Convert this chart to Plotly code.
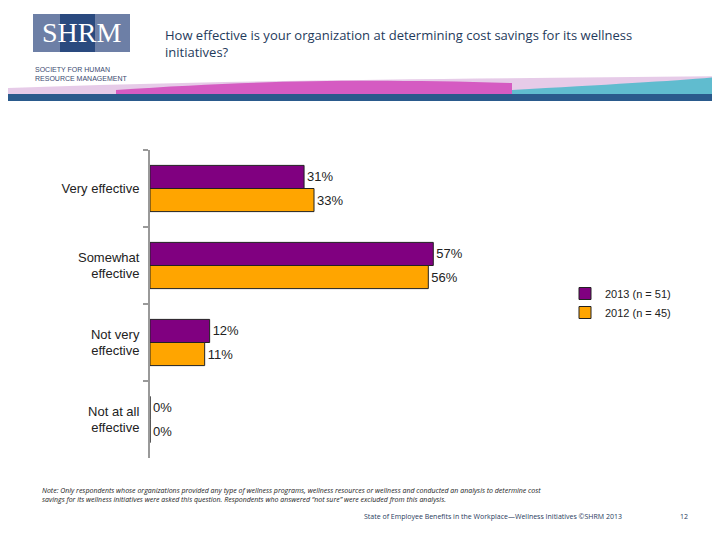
import plotly.graph_objects as go

categories = ["Very effective", "Somewhat<br>effective", "Not very<br>effective", "Not at all<br>effective"]
pct_2013 = [31, 57, 12, 0]
pct_2012 = [33, 56, 11, 0]
names = ["2013 (n = 51)", "2012 (n = 45)"]

DX = 8  # page offset compensation


def px(x):
    return (x - DX) / 720


def py(y):
    return 1 - (y - DX) / 540


fig = go.Figure()
fig.add_bar(y=categories, x=pct_2013, orientation="h", name=names[0],
            marker=dict(color="#800080", line=dict(color="#222", width=1)),
            text=[f"{v}%" for v in pct_2013], textposition="outside", cliponaxis=False)
fig.add_bar(y=categories, x=pct_2012, orientation="h", name=names[1],
            marker=dict(color="#FFA500", line=dict(color="#222", width=1)),
            text=[f"{v}%" for v in pct_2012], textposition="outside", cliponaxis=False)

font = "Liberation Sans, Arial, sans-serif"
fig.update_layout(
    width=720, height=540, margin=dict(l=0, r=0, t=0, b=0),
    paper_bgcolor="white", plot_bgcolor="white",
    barmode="group", bargap=0.4, bargroupgap=0.0,
    font=dict(family=font, size=13, color="#222"),
    xaxis=dict(domain=[px(150), px(647)], range=[0, 100], visible=False, automargin=False),
    yaxis=dict(domain=[py(458), py(150)], autorange="reversed", showline=True, automargin=False,
               linecolor="#999", linewidth=2, ticks="outside", tickson="boundaries",
               ticklen=5, tickcolor="#999", tickwidth=2,
               tickfont=dict(size=13, color="#222"), ticklabelstandoff=6),
    showlegend=True,
    legend=dict(x=px(565), y=py(303), xanchor="left", yanchor="middle",
                font=dict(size=11), tracegroupgap=4, bgcolor="rgba(0,0,0,0)"),
    shapes=[
        dict(type="rect", xref="paper", yref="paper", x0=px(33), x1=px(130),
             y0=py(52), y1=py(14), fillcolor="#6d7fa6", line_width=0, layer="below"),
        dict(type="rect", xref="paper", yref="paper", x0=px(60), x1=px(95),
             y0=py(52), y1=py(14), fillcolor="#2a4a7f", line_width=0, layer="below"),
        dict(type="path", xref="paper", yref="paper",
             path=f"M 0 {py(88)} C 0.3 {py(80)}, 0.6 {py(79)}, 1 {py(76)} L 1 {py(94)} L 0 {py(94)} Z",
             fillcolor="#d6a8d8", line_width=0, opacity=0.6),
        dict(type="path", xref="paper", yref="paper",
             path=f"M 0.15 {py(90)} C 0.35 {py(80)}, 0.5 {py(79)}, 0.7 {py(83)} L 0.7 {py(94)} L 0.15 {py(94)} Z",
             fillcolor="#d13fb8", line_width=0, opacity=0.8),
        dict(type="path", xref="paper", yref="paper",
             path=f"M 0.7 {py(90)} C 0.85 {py(84)}, 0.95 {py(80)}, 1 {py(76)} L 1 {py(94)} L 0.7 {py(94)} Z",
             fillcolor="#3fb8c8", line_width=0, opacity=0.8),
        dict(type="rect", xref="paper", yref="paper", x0=0, x1=1,
             y0=py(101), y1=py(94), fillcolor="#2a5a8c", line_width=0),
    ],
    annotations=[
        dict(text="SHRM", x=px(81), y=py(33), xref="paper", yref="paper", showarrow=False,
             xanchor="center", yanchor="middle",
             font=dict(family="Liberation Serif, serif", size=28, color="white")),
        dict(text="SOCIETY FOR HUMAN<br>RESOURCE MANAGEMENT", x=px(33), y=py(64),
             xref="paper", yref="paper", showarrow=False, xanchor="left", align="left",
             font=dict(size=7, color="#3a4a70")),
        dict(text="How effective is your organization at determining cost savings for its wellness<br>initiatives?",
             x=px(163), y=py(44), xref="paper", yref="paper", showarrow=False,
             xanchor="left", yanchor="middle", align="left",
             font=dict(family="Open Sans, sans-serif", size=13, color="#1f3b5c")),
        dict(text="<i>Note: Only respondents whose organizations provided any type of wellness programs, wellness resources or wellness and conducted an analysis to determine cost<br>savings for its wellness initiatives were asked this question. Respondents who answered \u201cnot sure\u201d were excluded from this analysis.</i>",
             x=px(40), y=py(495), xref="paper", yref="paper", showarrow=False,
             xanchor="left", yanchor="middle", align="left",
             font=dict(family="Open Sans, sans-serif", size=7, color="#222")),
        dict(text="State of Employee Benefits in the Workplace\u2014Wellness Initiatives \u00a9SHRM 2013",
             x=px(362), y=py(523), xref="paper", yref="paper", showarrow=False,
             xanchor="left", font=dict(family="Open Sans, sans-serif", size=7, color="#1f3b5c")),
        dict(text="12", x=px(684), y=py(523), xref="paper", yref="paper", showarrow=False,
             xanchor="center", font=dict(family="Open Sans, sans-serif", size=7, color="#1f3b5c")),
    ],
)
fig.write_html("out.html")
